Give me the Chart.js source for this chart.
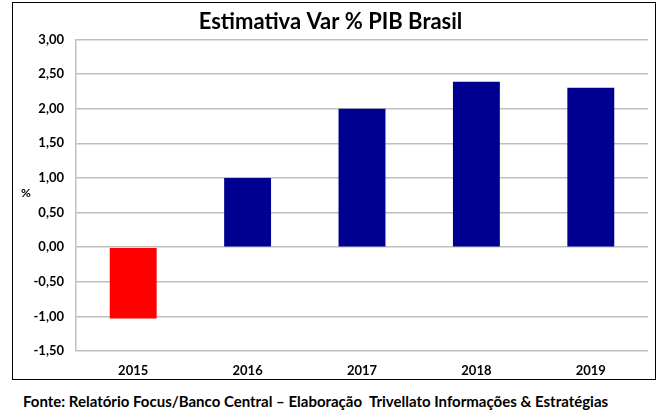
<!DOCTYPE html>
<html>
<head>
<meta charset="utf-8">
<script src="https://cdn.jsdelivr.net/npm/chart.js@4"></script>
<style>
    body { margin: 0; background: #fff; font-family: Lato, sans-serif; }
    #box {
        position: absolute; left: 12px; top: 2px;
        width: 644px; height: 378px;
        border: 1.5px solid #000; box-sizing: border-box;
    }
    #pct { position: absolute; left: 21px; top: 185px; font: bold 12px Lato, sans-serif; }
    #fonte {
        position: absolute; left: 23px; top: 392px;
        font: bold 15px Lato, sans-serif; color: #000; white-space: nowrap;
    }
</style>
</head>
<body>
<div id="box"><canvas id="chart" width="641" height="375"></canvas></div>
<div id="pct">%</div>
<div id="fonte">Fonte: Relatório Focus/Banco Central – Elaboração&nbsp; Trivellato Informações &amp; Estratégias</div>
<script>
const anos = ["2015", "2016", "2017", "2018", "2019"];
const pibVar = [-1.03, 1.0, 2.0, 2.39, 2.3];
const barColors = pibVar.map((v) => (v < 0 ? "#FF0000" : "#000090"));

const ctx = document.getElementById("chart").getContext("2d");
new Chart(ctx, {
    type: "bar",
    data: {
        labels: anos,
        datasets: [
            {
                data: pibVar,
                backgroundColor: barColors,
                borderWidth: 0,
                categoryPercentage: 1,
                barPercentage: 0.41,
            },
        ],
    },
    options: {
        responsive: false,
        animation: false,
        layout: { padding: { left: 0, right: 6, top: 0, bottom: 0 } },
        plugins: {
            legend: { display: false },
            tooltip: { enabled: false },
            title: {
                display: true,
                text: "Estimativa Var % PIB Brasil",
                color: "#000",
                font: { family: "Lato", size: 22, weight: "bold" },
                padding: { top: 6, bottom: 4 },
            },
        },
        scales: {
            x: {
                afterFit: (scale) => { scale.height = 27; },
                grid: { display: false, drawTicks: false },
                border: { display: false },
                ticks: {
                    color: "#000",
                    padding: 12,
                    font: { family: "Lato", size: 13, weight: "bold" },
                },
            },
            y: {
                min: -1.5,
                max: 3,
                afterFit: (scale) => { scale.width = 63; },
                grid: { color: "#BFBFBF", lineWidth: 1.5, drawTicks: false },
                border: { display: true, color: "#BFBFBF", width: 1.5 },
                ticks: {
                    stepSize: 0.5,
                    color: "#000",
                    padding: 12,
                    font: { family: "Lato", size: 13, weight: "bold" },
                    callback: (v) => v.toFixed(2).replace(".", ","),
                },
            },
        },
    },
});
</script>
</body>
</html>
